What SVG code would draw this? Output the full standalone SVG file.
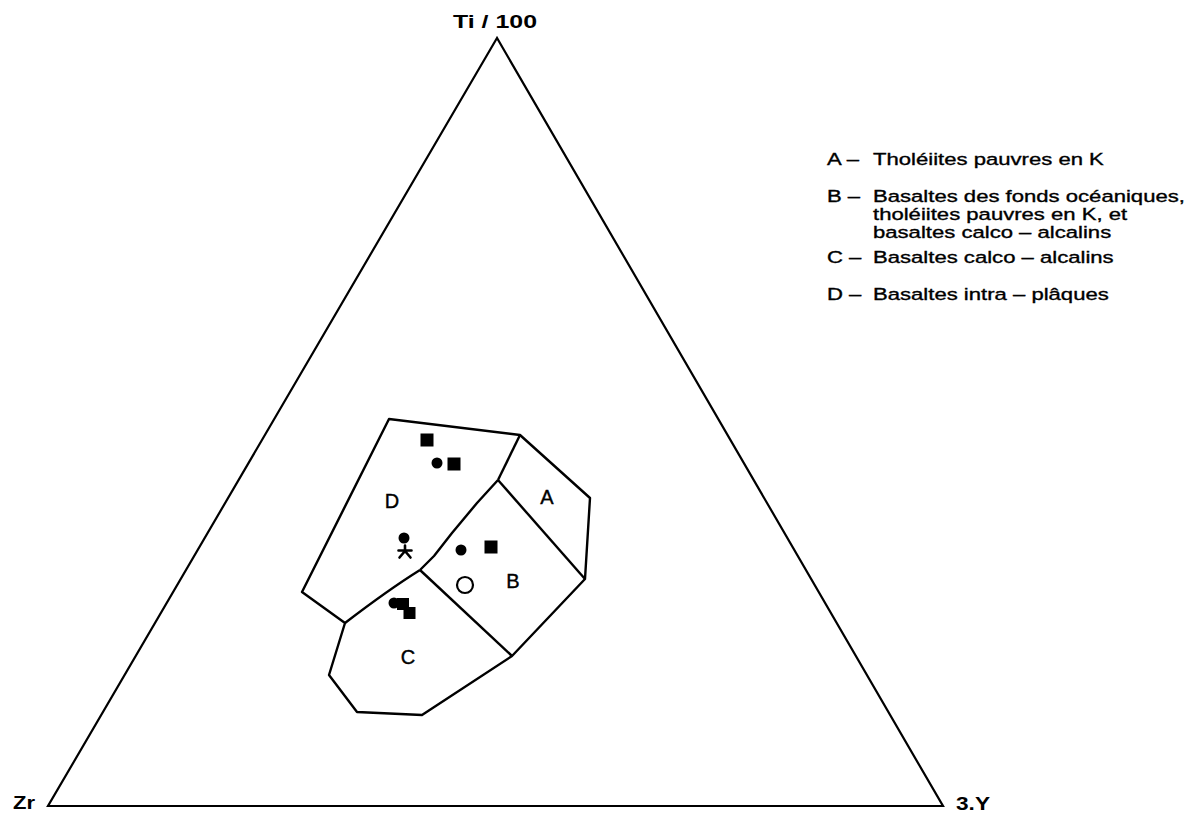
<svg xmlns="http://www.w3.org/2000/svg" width="1185" height="816" viewBox="0 0 1185 816">
<style>
.ln{fill:none;stroke:#000;stroke-width:2.4;stroke-linejoin:round}
.tri{fill:none;stroke:#000;stroke-width:2.2;stroke-linejoin:miter}
.ax{font-family:"Liberation Sans",Arial,sans-serif;font-weight:bold;font-size:18px;fill:#000}
.lg{font-family:"Liberation Sans",Arial,sans-serif;font-size:17px;fill:#000;stroke:#000;stroke-width:0.35}
.fl{font-family:"Liberation Sans",Arial,sans-serif;font-size:20px;fill:#000;stroke:#000;stroke-width:0.4;text-anchor:middle}
.dot{fill:#000}
</style>
<rect width="1185" height="816" fill="#fff"/>
<g id="triangle">
<polygon class="tri" points="497,38 48,806 943,806"/>
</g>
<g id="axis-labels">
<text class="ax" x="453" y="28" textLength="84" lengthAdjust="spacingAndGlyphs">Ti / 100</text>
<text class="ax" x="13" y="809" textLength="22" lengthAdjust="spacingAndGlyphs">Zr</text>
<text class="ax" x="956" y="810" textLength="34" lengthAdjust="spacingAndGlyphs">3.Y</text>
</g>
<g id="fields">
<polygon class="ln" points="389,419 520,435 590,498 585,579 512,656 422,715 357,712 329,675 345,623 302,592"/>
<g id="connectors">
<path class="ln" d="M520,435 L498,480"/>
<path class="ln" d="M498,480 L585,579"/>
<path class="ln" d="M498,480 L477,503 L452,533 L434,556 L420,570"/>
<path class="ln" d="M420,570 L512,656"/>
<path class="ln" d="M420,570 Q388,590 345,623"/>
</g>
<g id="field-A"><text class="fl" x="547" y="504">A</text></g>
<g id="field-B"><text class="fl" x="513" y="588">B</text></g>
<g id="field-C"><text class="fl" x="408" y="664">C</text></g>
<g id="field-D"><text class="fl" x="392" y="508">D</text></g>
</g>
<g id="samples">
<rect class="dot" x="420.5" y="433.5" width="13" height="13"/>
<circle class="dot" cx="437" cy="463" r="5.5"/>
<rect class="dot" x="447.5" y="457.5" width="13" height="13"/>
<circle class="dot" cx="404" cy="538" r="5.5"/>
<path d="M405,552 V545.5 M405,550.5 H398.5 M405,550.5 H411.5 M405,551 L399.5,557.5 M405,551 L410.5,557.5" fill="none" stroke="#000" stroke-width="2.6" stroke-linecap="round"/>
<circle class="dot" cx="461" cy="550" r="5.5"/>
<rect class="dot" x="484.5" y="540.5" width="13" height="13"/>
<circle cx="465" cy="585" r="8" fill="none" stroke="#000" stroke-width="2.2"/>
<circle class="dot" cx="394" cy="603" r="5.5"/>
<rect class="dot" x="397" y="598" width="12" height="12"/>
<rect class="dot" x="403.5" y="607" width="12" height="12"/>
</g>
<g id="legend" transform="translate(827,0) scale(1.3,1)">
<text class="lg" x="0" y="165">A –</text>
<text class="lg" x="35.4" y="165">Tholéiites pauvres en K</text>
<text class="lg" x="0" y="202">B –</text>
<text class="lg" x="35.4" y="202">Basaltes des fonds océaniques,</text>
<text class="lg" x="35.4" y="220">tholéiites pauvres en K, et</text>
<text class="lg" x="35.4" y="238">basaltes calco – alcalins</text>
<text class="lg" x="0" y="263">C –</text>
<text class="lg" x="35.4" y="263">Basaltes calco – alcalins</text>
<text class="lg" x="0" y="300">D –</text>
<text class="lg" x="35.4" y="300">Basaltes intra – plâques</text>
</g>
</svg>
